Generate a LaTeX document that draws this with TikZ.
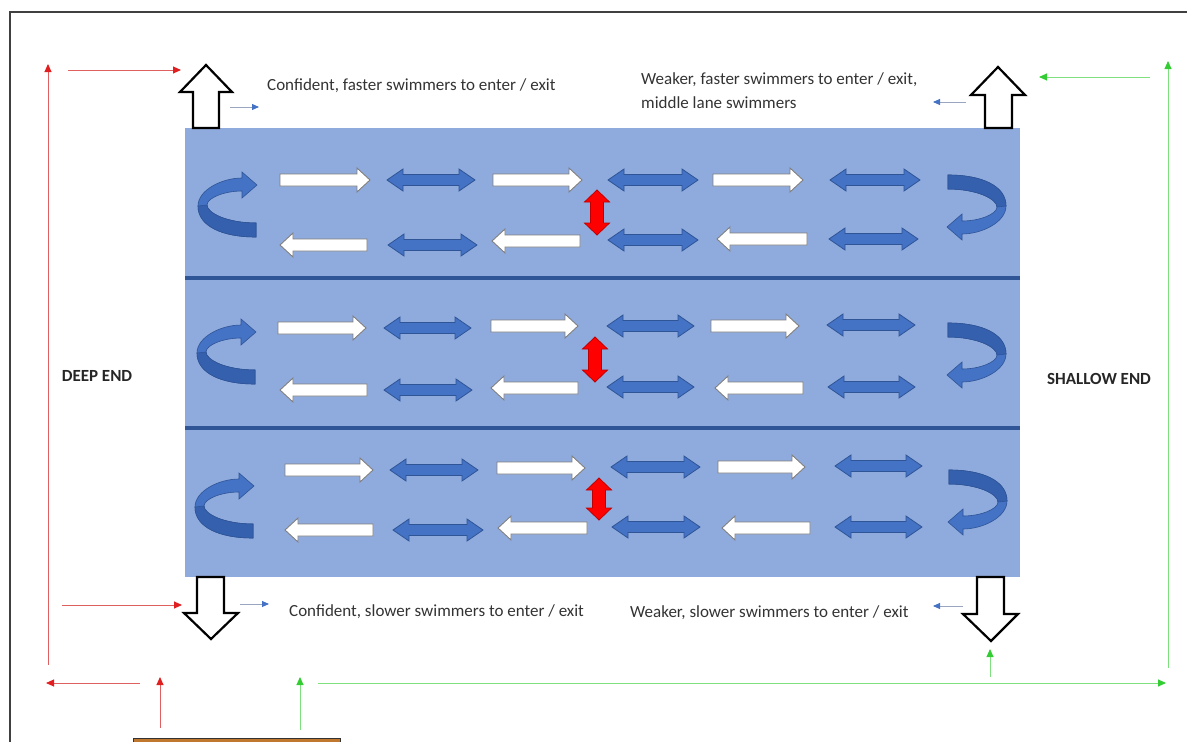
\documentclass[tikz,border=0pt]{standalone}
\usepackage{fontspec}
\setmainfont{Carlito}
\usetikzlibrary{arrows.meta}
\definecolor{pool}{HTML}{8FAADC}
\definecolor{lanediv}{HTML}{2F5597}
\definecolor{dblue}{HTML}{4472C4}
\definecolor{dbluedark}{HTML}{3560AE}
\definecolor{dblueline}{HTML}{2F5597}
\definecolor{wline}{HTML}{7F7F7F}
\definecolor{redarr}{HTML}{FF0000}
\definecolor{redline}{HTML}{C00000}
\definecolor{rline}{HTML}{E06060}
\definecolor{rtip}{HTML}{E02020}
\definecolor{gline}{HTML}{7FE07F}
\definecolor{gtip}{HTML}{33CC33}
\definecolor{sline}{HTML}{9AA6C0}
\definecolor{brownbox}{HTML}{C0782F}
\tikzset{
  warr/.style={fill=white,draw=wline,line width=0.9pt,line join=miter},
  darr/.style={fill=dblue,draw=dblueline,line width=0.8pt,line join=miter},
  rarr/.style={fill=redarr,draw=redline,line width=0.8pt,line join=miter},
  gate/.style={fill=white,draw=black,line width=2.2pt,line join=miter},
  redcon/.style={draw=rline,line width=0.9pt,-{Triangle[length=8pt,width=7pt,color=rtip]}},
  grncon/.style={draw=gline,line width=0.9pt,-{Triangle[length=8pt,width=7pt,color=gtip]}},
  smallcon/.style={draw=sline,line width=0.9pt,-{Triangle[length=7pt,width=6pt,color=dblue]}},
  lbl/.style={font=\fontsize{17}{24}\selectfont,text=black!80,inner sep=0pt,anchor=west},
  endlbl/.style={font=\fontsize{17}{20}\selectfont\bfseries,text=black!85,inner sep=0pt},
  curvedarrow/.pic={
    \fill[dblue,draw=dblueline,line width=0.6pt]
      (29,33) .. controls (-5,33) and (-29,22) .. (-29,2)
      .. controls (-29,-14) and (-5,-26) .. (15,-26)
      -- (15,-32) -- (30,-19) -- (15,-6) -- (15,-13)
      .. controls (-3,-13) and (-20,-6) .. (-20,1)
      .. controls (-20,9) and (0,19) .. (29,19) -- cycle;
    \fill[dbluedark,draw=dblueline,line width=0.6pt]
      (29,33) .. controls (-5,33) and (-29,22) .. (-29,2)
      -- (-20,1) .. controls (-20,9) and (0,19) .. (29,19) -- cycle;
  }
}
% white arrow pointing right: x1 x2 y
\newcommand\wright[3]{\filldraw[warr] (#1,#3-6) -- (#2-13,#3-6) -- (#2-13,#3-12) -- (#2,#3) -- (#2-13,#3+12) -- (#2-13,#3+6) -- (#1,#3+6) -- cycle;}
% white arrow pointing left: x1 (tip) x2 y
\newcommand\wleft[3]{\filldraw[warr] (#2,#3-6) -- (#1+13,#3-6) -- (#1+13,#3-12) -- (#1,#3) -- (#1+13,#3+12) -- (#1+13,#3+6) -- (#2,#3+6) -- cycle;}
% blue double arrow: x1 x2 y
\newcommand\dbl[3]{\filldraw[darr] (#1,#3) -- (#1+16,#3-11) -- (#1+16,#3-5.5) -- (#2-16,#3-5.5) -- (#2-16,#3-11) -- (#2,#3) -- (#2-16,#3+11) -- (#2-16,#3+5.5) -- (#1+16,#3+5.5) -- (#1+16,#3+11) -- cycle;}
% red vertical double arrow: x y1 y2
\newcommand\rdbl[3]{\filldraw[rarr] (#1,#2) -- (#1+12.5,#2+12) -- (#1+6.5,#2+12) -- (#1+6.5,#3-12) -- (#1+12.5,#3-12) -- (#1,#3) -- (#1-12.5,#3-12) -- (#1-6.5,#3-12) -- (#1-6.5,#2+12) -- (#1-12.5,#2+12) -- cycle;}
\begin{document}
\begin{tikzpicture}[x=1pt,y=-1pt]
\useasboundingbox (0,0) rectangle (1187,742);
% frame
\draw[line width=2pt,draw=black!75] (10,745) -- (10,12) -- (1190,12);
% pool
\fill[pool] (185,128) rectangle (1020,577);
\draw[lanediv,line width=4pt] (185,278) -- (1020,278);
\draw[lanediv,line width=4pt] (185,428) -- (1020,428);
% curved arrows
\pic at (227,204) {curvedarrow};
\pic[rotate=180] at (977,208) {curvedarrow};
\pic at (226,351) {curvedarrow};
\pic[rotate=180] at (977,356) {curvedarrow};
\pic at (224,505) {curvedarrow};
\pic[rotate=180] at (978,503) {curvedarrow};
% lane 1
\wright{280}{370}{180} \dbl{387}{475}{180} \wright{493}{582}{180}
\dbl{608}{698}{180} \wright{713}{803}{180} \dbl{830}{920}{180}
\wleft{280}{367}{245} \dbl{388}{477}{245} \wleft{492}{580}{241}
\dbl{608}{698}{240} \wleft{717}{807}{239} \dbl{829}{918}{239}
\rdbl{597}{190}{235}
% lane 2
\wright{278}{366}{328} \dbl{384}{471}{328} \wright{491}{578}{326}
\dbl{607}{694}{326} \wright{711}{799}{326} \dbl{827}{915}{325}
\wleft{280}{367}{390} \dbl{384}{472}{390} \wleft{491}{578}{388}
\dbl{607}{694}{387} \wleft{715}{803}{388} \dbl{828}{915}{387}
\rdbl{595}{337}{382}
% lane 3
\wright{285}{373}{470} \dbl{390}{478}{470} \wright{497}{585}{468}
\dbl{611}{700}{467} \wright{718}{805}{467} \dbl{835}{922}{466}
\wleft{285}{373}{530} \dbl{393}{483}{530} \wleft{498}{587}{528}
\dbl{612}{700}{527} \wleft{722}{810}{528} \dbl{835}{922}{527}
\rdbl{599}{478}{520}
% entry / exit gates
\filldraw[gate] (193,128) -- (193,92) -- (180,92) -- (206,65) -- (232,92) -- (219,92) -- (219,128) -- cycle;
\filldraw[gate] (985,128) -- (985,95) -- (971,95) -- (998,67) -- (1025,95) -- (1012,95) -- (1012,128) -- cycle;
\filldraw[gate] (197,577) -- (197,613) -- (184,613) -- (211,639) -- (238,613) -- (224,613) -- (224,577) -- cycle;
\filldraw[gate] (977,577) -- (977,614) -- (963,614) -- (991,641) -- (1018,614) -- (1004,614) -- (1004,577) -- cycle;
% labels
\node[lbl] (cf) at (267,86) {Confident, faster swimmers to enter / exit};
\node[lbl,align=left] (wf) at (641,91) {Weaker, faster swimmers to enter / exit,\\middle lane swimmers};
\node[lbl] (cs) at (289,612) {Confident, slower swimmers to enter / exit};
\node[lbl] (ws) at (630,613) {Weaker, slower swimmers to enter / exit};
\node[endlbl] (deep) at (97,376) {DEEP END};
\node[endlbl] (shallow) at (1099,379) {SHALLOW END};
% small blue pointers
\coordinate (p1a) at (230,107); \coordinate (p1b) at (259,107);
\coordinate (p2a) at (966,102); \coordinate (p2b) at (933,102);
\coordinate (p3a) at (240,604); \coordinate (p3b) at (269,604);
\coordinate (p4a) at (963,606); \coordinate (p4b) at (933,606);
\draw[smallcon] (p1a) -- (p1b);
\draw[smallcon] (p2a) -- (p2b);
\draw[smallcon] (p3a) -- (p3b);
\draw[smallcon] (p4a) -- (p4b);
% red route
\coordinate (r1a) at (48,665); \coordinate (r1b) at (48,64);
\coordinate (r2a) at (68,70); \coordinate (r2b) at (181,70);
\coordinate (r3a) at (62,605); \coordinate (r3b) at (182,605);
\coordinate (r4a) at (140,683); \coordinate (r4b) at (46,683);
\coordinate (r5a) at (160,728); \coordinate (r5b) at (160,677);
\draw[redcon] (r1a) -- (r1b);
\draw[redcon] (r2a) -- (r2b);
\draw[redcon] (r3a) -- (r3b);
\draw[redcon] (r4a) -- (r4b);
\draw[redcon] (r5a) -- (r5b);
% green route
\coordinate (g1a) at (1150,77); \coordinate (g1b) at (1039,77);
\coordinate (g2a) at (1168,668); \coordinate (g2b) at (1168,61);
\coordinate (g3a) at (318,683); \coordinate (g3b) at (1166,683);
\coordinate (g4a) at (990,677); \coordinate (g4b) at (990,649);
\coordinate (g5a) at (300,730); \coordinate (g5b) at (300,677);
\draw[grncon] (g1a) -- (g1b);
\draw[grncon] (g2a) -- (g2b);
\draw[grncon] (g3a) -- (g3b);
\draw[grncon] (g4a) -- (g4b);
\draw[grncon] (g5a) -- (g5b);
% brown box at bottom
\filldraw[fill=brownbox,draw=black!80,line width=1pt] (133,738) rectangle (340,750);
\end{tikzpicture}
\end{document}
